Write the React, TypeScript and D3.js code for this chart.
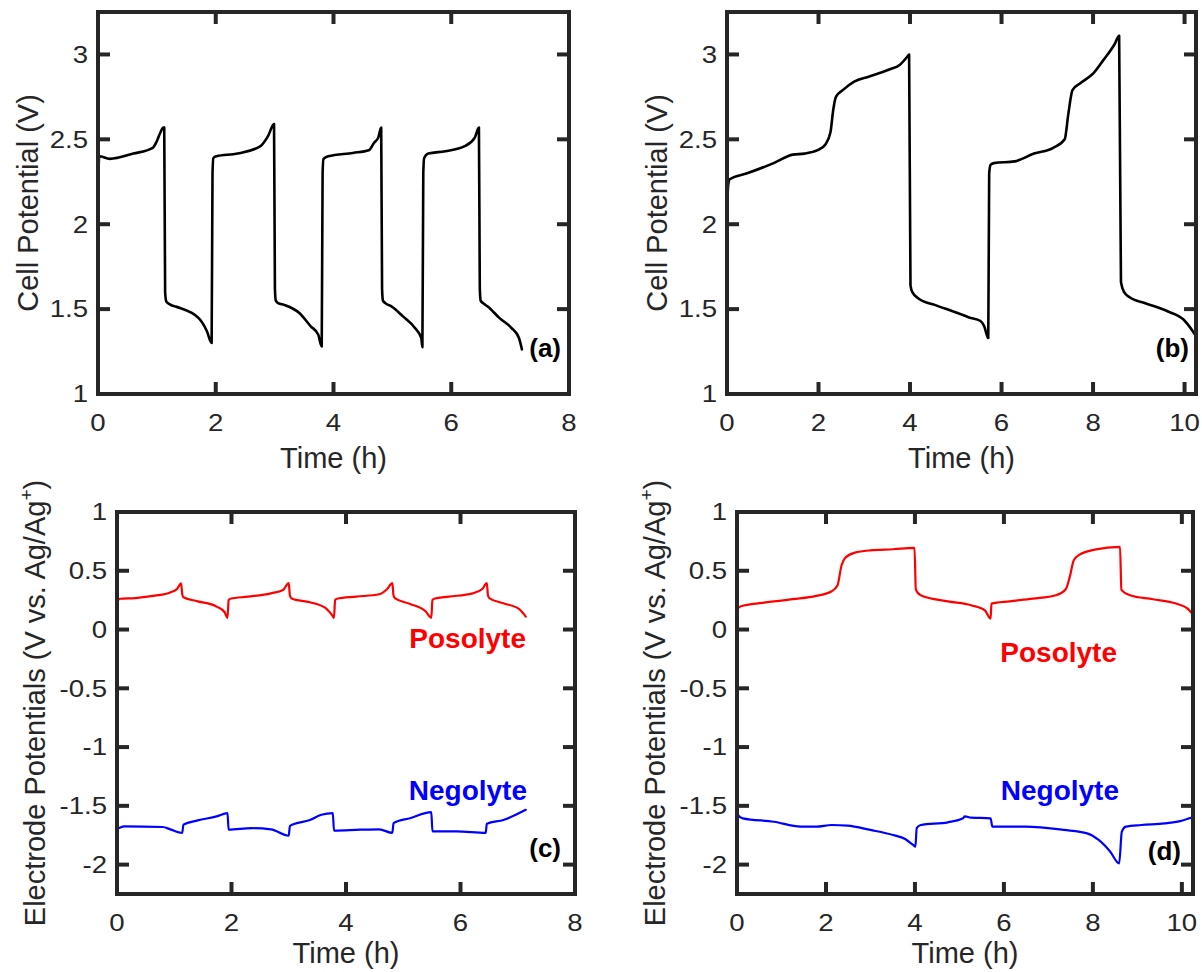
import React from "react";
import * as d3 from "d3";

// ---------- data ----------
const aTime = [0, 0.02, 0.2, 0.6, 0.93, 1.0, 1.06, 1.11, 1.125, 1.14, 1.16, 1.22, 1.32, 1.71, 1.85, 1.93, 1.945, 1.96, 2.01, 2.37, 2.76, 2.89, 2.99, 3.005, 3.02, 3.06, 3.16, 3.42, 3.61, 3.74, 3.8, 3.815, 3.83, 3.91, 4.33, 4.6, 4.69, 4.76, 4.81, 4.825, 4.84, 4.88, 4.99, 5.18, 5.38, 5.49, 5.51, 5.525, 5.54, 5.61, 5.9, 6.23, 6.4, 6.47, 6.485, 6.5, 6.54, 6.62, 6.82, 7.02, 7.15, 7.2];
const aVolt = [2.13, 2.4, 2.385, 2.416, 2.45, 2.49, 2.54, 2.57, 2.57, 1.6, 1.545, 1.528, 1.515, 1.447, 1.37, 1.3, 2.3, 2.39, 2.4, 2.416, 2.46, 2.52, 2.59, 1.62, 1.55, 1.535, 1.525, 1.477, 1.4, 1.35, 1.28, 2.3, 2.385, 2.4, 2.42, 2.436, 2.48, 2.51, 2.57, 1.62, 1.55, 1.535, 1.515, 1.457, 1.39, 1.33, 1.276, 2.3, 2.39, 2.416, 2.43, 2.46, 2.51, 2.57, 1.62, 1.55, 1.535, 1.515, 1.447, 1.39, 1.33, 1.263];

const bTime = [0, 0.03, 0.06, 0.44, 1.02, 1.44, 1.69, 1.98, 2.15, 2.26, 2.32, 2.38, 2.53, 2.78, 3.11, 3.53, 3.78, 3.95, 3.98, 4.01, 4.05, 4.2, 4.54, 5.04, 5.29, 5.54, 5.62, 5.71, 5.73, 5.76, 5.83, 6.29, 6.71, 7.13, 7.38, 7.46, 7.55, 7.72, 8.01, 8.22, 8.47, 8.57, 8.61, 8.68, 8.8, 9.14, 9.64, 9.97, 10.18, 10.3];
const bVolt = [2.11, 2.24, 2.265, 2.3, 2.36, 2.41, 2.416, 2.436, 2.47, 2.54, 2.67, 2.75, 2.79, 2.84, 2.87, 2.91, 2.94, 2.99, 3.0, 1.64, 1.6, 1.56, 1.525, 1.477, 1.451, 1.43, 1.4, 1.33, 2.3, 2.35, 2.36, 2.37, 2.416, 2.45, 2.5, 2.65, 2.79, 2.83, 2.89, 2.965, 3.06, 3.11, 1.66, 1.6, 1.57, 1.535, 1.486, 1.44, 1.37, 1.32];

const cTime = [0, 0.02, 0.05, 0.32, 0.66, 0.93, 1.05, 1.12, 1.14, 1.16, 1.41, 1.74, 1.88, 1.93, 1.95, 1.98, 2.29, 2.69, 2.9, 3.0, 3.02, 3.05, 3.37, 3.64, 3.76, 3.79, 3.81, 3.84, 4.18, 4.58, 4.72, 4.81, 4.83, 4.86, 5.12, 5.39, 5.49, 5.51, 5.54, 5.8, 6.21, 6.38, 6.46, 6.48, 6.51, 6.75, 7.02, 7.14];
const cPos = [0.105, 0.25, 0.262, 0.268, 0.288, 0.316, 0.345, 0.393, 0.3, 0.274, 0.24, 0.195, 0.147, 0.1, 0.25, 0.262, 0.28, 0.308, 0.336, 0.395, 0.29, 0.265, 0.232, 0.184, 0.12, 0.1, 0.25, 0.262, 0.28, 0.3, 0.345, 0.395, 0.29, 0.265, 0.218, 0.155, 0.1, 0.25, 0.262, 0.28, 0.308, 0.345, 0.395, 0.29, 0.265, 0.223, 0.175, 0.11];

const cNegTime = [0, 0.02, 0.12, 0.8, 0.93, 1.14, 1.16, 1.41, 1.74, 1.93, 1.95, 2.35, 2.69, 3.0, 3.02, 3.37, 3.57, 3.77, 3.79, 4.25, 4.58, 4.81, 4.83, 5.12, 5.49, 5.51, 5.93, 6.44, 6.46, 6.75, 7.14];
const cNeg = [-1.576, -1.69, -1.675, -1.68, -1.7, -1.73, -1.66, -1.624, -1.59, -1.562, -1.703, -1.69, -1.7, -1.754, -1.67, -1.62, -1.576, -1.562, -1.71, -1.703, -1.7, -1.73, -1.647, -1.605, -1.554, -1.717, -1.717, -1.73, -1.652, -1.62, -1.534];

const dTime = [0, 0.02, 0.09, 0.57, 1.26, 1.78, 2.13, 2.26, 2.35, 2.43, 2.65, 3.0, 3.51, 3.99, 4.02, 4.13, 4.74, 5.26, 5.57, 5.7, 5.72, 6.13, 6.65, 7.17, 7.39, 7.48, 7.57, 7.7, 8.04, 8.61, 8.64, 8.83, 9.35, 9.87, 10.13, 10.3];
const dPos = [-0.5, 0.18, 0.198, 0.227, 0.258, 0.286, 0.326, 0.377, 0.547, 0.609, 0.654, 0.674, 0.683, 0.694, 0.34, 0.292, 0.24, 0.207, 0.164, 0.093, 0.22, 0.24, 0.263, 0.292, 0.343, 0.448, 0.59, 0.637, 0.68, 0.703, 0.338, 0.292, 0.258, 0.221, 0.178, 0.1];

const dNegTime = [0, 0.02, 0.13, 0.83, 1.43, 1.78, 2.13, 2.48, 3.0, 3.51, 3.78, 3.96, 4.01, 4.04, 4.13, 4.74, 5.08, 5.12, 5.26, 5.7, 5.74, 6.48, 7.35, 7.87, 8.13, 8.39, 8.59, 8.65, 8.74, 9.09, 9.61, 9.96, 10.3];
const dNeg = [-0.5, -1.578, -1.606, -1.635, -1.677, -1.677, -1.663, -1.668, -1.705, -1.748, -1.782, -1.833, -1.847, -1.69, -1.663, -1.64, -1.606, -1.59, -1.6, -1.606, -1.677, -1.677, -1.705, -1.734, -1.79, -1.89, -1.99, -1.72, -1.677, -1.663, -1.649, -1.63, -1.59];

const xTicksA = [0, 2, 4, 6, 8];
const xTicksB = [0, 2, 4, 6, 8, 10];
const yTicksCell = [1, 1.5, 2, 2.5, 3];
const yTicksElec = [-2, -1.5, -1, -0.5, 0, 0.5, 1];

const FONT = "'Liberation Sans', Arial, Helvetica, sans-serif";
const AX = "#262626";
const TICK_FS = 23;
const TICK_SX = 1.2;

type Series = { x: number[]; y: number[]; color: string; width: number };
type PanelProps = {
  id: string;
  left: number; right: number; top: number; bottom: number;
  xDomain: [number, number]; yDomain: [number, number];
  xTicks: number[]; yTicks: number[];
  series: Series[];
  yLabel: React.ReactNode;
  yLabelX: number;
  xLabelY: number;
  tag: string; tagX: number; tagY: number;
  notes?: { text: string; x: number; y: number; color: string }[];
};

function Panel(p: PanelProps) {
  const xs = d3.scaleLinear().domain(p.xDomain).range([p.left, p.right]);
  const ys = d3.scaleLinear().domain(p.yDomain).range([p.bottom, p.top]);
  const tl = 12;
  const midX = (p.left + p.right) / 2;
  const midY = (p.top + p.bottom) / 2;
  return (
    <g>
      <defs>
        <clipPath id={"clip" + p.id}>
          <rect x={p.left} y={p.top} width={p.right - p.left} height={p.bottom - p.top} />
        </clipPath>
      </defs>
      <g clipPath={`url(#clip${p.id})`}>
        {p.series.map((s, i) => {
          const pts = s.x.map((v, j) => [v, s.y[j]] as [number, number]);
          const line = d3.line<[number, number]>().x(d => xs(d[0])).y(d => ys(d[1])).curve(d3.curveMonotoneX);
          return <path key={i} d={line(pts) || ""} fill="none" stroke={s.color} strokeWidth={s.width} strokeLinejoin="round" strokeLinecap="round" />;
        })}
      </g>
      {p.xTicks.map(t => (
        <g key={"xt" + t}>
          <line x1={xs(t)} x2={xs(t)} y1={p.bottom} y2={p.bottom - tl} stroke={AX} strokeWidth={4} />
          <line x1={xs(t)} x2={xs(t)} y1={p.top} y2={p.top + tl} stroke={AX} strokeWidth={4} />
          <text transform={`translate(${xs(t)},${p.bottom + 37}) scale(${TICK_SX},1)`} textAnchor="middle" fontFamily={FONT} fontSize={TICK_FS} fill={AX}>{String(t)}</text>
        </g>
      ))}
      {p.yTicks.map(t => (
        <g key={"yt" + t}>
          <line x1={p.left} x2={p.left + tl} y1={ys(t)} y2={ys(t)} stroke={AX} strokeWidth={4} />
          <line x1={p.right} x2={p.right - tl} y1={ys(t)} y2={ys(t)} stroke={AX} strokeWidth={4} />
          <text transform={`translate(${p.left - 10},${ys(t)}) scale(${TICK_SX},1)`} dy="0.36em" textAnchor="end" fontFamily={FONT} fontSize={TICK_FS} fill={AX}>{String(t)}</text>
        </g>
      ))}
      <rect x={p.left} y={p.top} width={p.right - p.left} height={p.bottom - p.top} fill="none" stroke={AX} strokeWidth={4} />
      <text x={midX} y={p.xLabelY} textAnchor="middle" fontFamily={FONT} fontSize={29} fill={AX}>Time (h)</text>
      <text transform={`translate(${p.yLabelX},${midY}) rotate(-90)`} textAnchor="middle" fontFamily={FONT} fontSize={29} fill={AX}>{p.yLabel}</text>
      <text x={p.tagX} y={p.tagY} textAnchor="end" fontFamily={FONT} fontSize={26} fontWeight="bold" fill="#000">{p.tag}</text>
      {(p.notes || []).map((n, i) => (
        <text key={i} x={n.x} y={n.y} textAnchor="end" fontFamily={FONT} fontSize={28} fontWeight="bold" fill={n.color}>{n.text}</text>
      ))}
    </g>
  );
}

const elecLabel = (
  <>
    <tspan>Electrode Potentials (V vs. Ag/Ag</tspan>
    <tspan fontSize={19} dy={-12}>+</tspan>
    <tspan dy={12}>)</tspan>
  </>
);

export default function App() {
  return (
    <svg width={1202} height={972} style={{ position: "absolute", left: 0, top: 0, background: "#fff" }}>
      <rect width={1202} height={972} fill="#fff" />
      <Panel id="a" left={98} right={569} top={12} bottom={394} xDomain={[0, 8]} yDomain={[1, 3.25]}
        xTicks={xTicksA} yTicks={yTicksCell}
        series={[{ x: aTime, y: aVolt, color: "#000", width: 2.6 }]}
        yLabel="Cell Potential (V)" yLabelX={38} xLabelY={468} tag="(a)" tagX={561} tagY={357} />
      <Panel id="b" left={727} right={1196} top={12} bottom={394} xDomain={[0, 10.25]} yDomain={[1, 3.25]}
        xTicks={xTicksB} yTicks={yTicksCell}
        series={[{ x: bTime, y: bVolt, color: "#000", width: 2.6 }]}
        yLabel="Cell Potential (V)" yLabelX={667} xLabelY={468} tag="(b)" tagX={1189} tagY={357} />
      <Panel id="c" left={117} right={575} top={512} bottom={894} xDomain={[0, 8]} yDomain={[-2.25, 1]}
        xTicks={xTicksA} yTicks={yTicksElec}
        series={[
          { x: cTime, y: cPos, color: "#ff0000", width: 2.2 },
          { x: cNegTime, y: cNeg, color: "#0000ff", width: 2.2 },
        ]}
        yLabel={elecLabel} yLabelX={45} xLabelY={963} tag="(c)" tagX={561} tagY={857}
        notes={[
          { text: "Posolyte", x: 526, y: 648, color: "#ff0000" },
          { text: "Negolyte", x: 527, y: 800, color: "#0000ff" },
        ]} />
      <Panel id="d" left={737} right={1193} top={512} bottom={894} xDomain={[0, 10.25]} yDomain={[-2.25, 1]}
        xTicks={xTicksB} yTicks={yTicksElec}
        series={[
          { x: dTime, y: dPos, color: "#ff0000", width: 2.2 },
          { x: dNegTime, y: dNeg, color: "#0000ff", width: 2.2 },
        ]}
        yLabel={elecLabel} yLabelX={665} xLabelY={963} tag="(d)" tagX={1181} tagY={860}
        notes={[
          { text: "Posolyte", x: 1117, y: 662, color: "#ff0000" },
          { text: "Negolyte", x: 1119, y: 800, color: "#0000ff" },
        ]} />
    </svg>
  );
}
